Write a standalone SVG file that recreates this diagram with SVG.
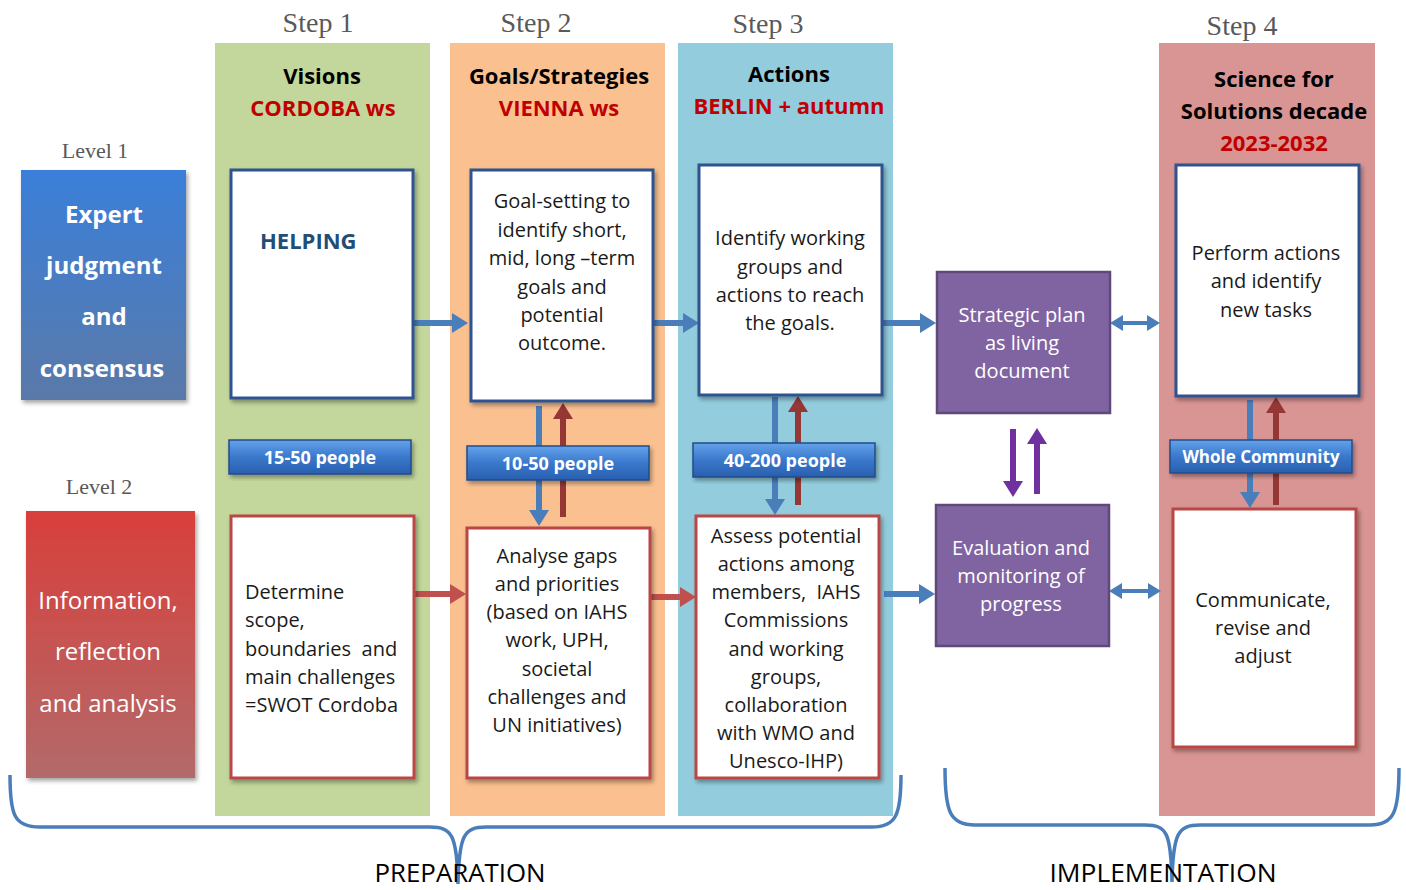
<svg xmlns="http://www.w3.org/2000/svg" width="1406" height="890" viewBox="0 0 1406 890">
<defs>
<style>
.step{font-family:"Liberation Serif",serif;font-size:28px;fill:#595959;text-anchor:middle}
.lvl{font-family:"Liberation Serif",serif;font-size:22px;fill:#595959;text-anchor:middle}
.hdr{font-family:"Open Sans","Liberation Sans",sans-serif;font-size:22px;font-weight:bold;fill:#000;text-anchor:middle}
.red{fill:#c00000}
.body{font-family:"Open Sans","Liberation Sans",sans-serif;font-size:20px;fill:#1a1a1a;text-anchor:middle;white-space:pre}
.wb{font-family:"Open Sans","Liberation Sans",sans-serif;font-size:24px;font-weight:bold;fill:#fff;text-anchor:middle}
.wr{font-family:"Open Sans","Liberation Sans",sans-serif;font-size:24px;fill:#fff;text-anchor:middle}
.pw{font-family:"Open Sans","Liberation Sans",sans-serif;font-size:20px;fill:#fff;text-anchor:middle}
.badge{font-family:"Open Sans","Liberation Sans",sans-serif;font-size:18px;font-weight:bold;fill:#fff;text-anchor:middle}
.bx1{fill:#fff;stroke:#2f528f;stroke-width:3}
.bx2{fill:#fff;stroke:#b84744;stroke-width:3}
.pur{fill:#8064a2;stroke:#5f497a;stroke-width:2.5}
.bdg{fill:url(#gBadge);stroke:#1f4d8a;stroke-width:1.5}
.ab{stroke:#4a7ebb;stroke-width:6;fill:none}
.ar{stroke:#c0504d;stroke-width:6;fill:none}
.ad{stroke:#953735;stroke-width:6;fill:none}
.ap{stroke:#7030a0;stroke-width:6;fill:none}
.dbl{stroke:#4a7ebb;stroke-width:4;fill:none}
.brace{stroke:#4a7ebb;stroke-width:3.5;fill:none}
.big{font-family:"Open Sans","Liberation Sans",sans-serif;font-size:25px;fill:#000;text-anchor:middle}
</style>
<linearGradient id="gBlue" x1="0" y1="0" x2="0" y2="1"><stop offset="0" stop-color="#3a7fda"/><stop offset="1" stop-color="#5a79a8"/></linearGradient>
<linearGradient id="gRed" x1="0" y1="0" x2="0" y2="1"><stop offset="0" stop-color="#d83f3b"/><stop offset="1" stop-color="#b36a6a"/></linearGradient>
<linearGradient id="gBadge" x1="0" y1="0" x2="0" y2="1"><stop offset="0" stop-color="#64a2ea"/><stop offset="0.5" stop-color="#3a78cc"/><stop offset="1" stop-color="#2a5fae"/></linearGradient>
<filter id="sh" x="-10%" y="-10%" width="130%" height="130%"><feDropShadow dx="2" dy="3" stdDeviation="2" flood-color="#000" flood-opacity="0.35"/></filter>
<marker id="mB" markerUnits="userSpaceOnUse" markerWidth="16" markerHeight="20" refX="4" refY="10" orient="auto"><path d="M0,0 L16,10 L0,20 z" fill="#4a7ebb"/></marker>
<marker id="mR" markerUnits="userSpaceOnUse" markerWidth="16" markerHeight="20" refX="4" refY="10" orient="auto"><path d="M0,0 L16,10 L0,20 z" fill="#c0504d"/></marker>
<marker id="mD" markerUnits="userSpaceOnUse" markerWidth="16" markerHeight="20" refX="4" refY="10" orient="auto"><path d="M0,0 L16,10 L0,20 z" fill="#953735"/></marker>
<marker id="mP" markerUnits="userSpaceOnUse" markerWidth="16" markerHeight="20" refX="4" refY="10" orient="auto"><path d="M0,0 L16,10 L0,20 z" fill="#7030a0"/></marker>
<marker id="mS" markerUnits="userSpaceOnUse" markerWidth="13" markerHeight="16" refX="3" refY="8" orient="auto-start-reverse"><path d="M0,0 L13,8 L0,16 z" fill="#4a7ebb"/></marker>
</defs>
<rect width="1406" height="890" fill="#fff"/>

<g id="columns">
<rect x="215" y="43" width="215" height="773" fill="#c3d69b"/>
<rect x="450" y="43" width="215" height="773" fill="#fac090"/>
<rect x="678" y="43" width="215" height="773" fill="#93cddd"/>
<rect x="1159" y="43" width="216" height="773" fill="#d99594"/>
<text class="step" x="318" y="32">Step 1</text>
<text class="step" x="536" y="32">Step 2</text>
<text class="step" x="768" y="33">Step 3</text>
<text class="step" x="1242" y="35">Step 4</text>
<text class="hdr" x="322" y="84">Visions</text>
<text class="hdr red" x="323" y="116">CORDOBA ws</text>
<text class="hdr" x="559" y="84">Goals/Strategies</text>
<text class="hdr red" x="559" y="116">VIENNA ws</text>
<text class="hdr" x="789" y="82">Actions</text>
<text class="hdr red" x="789" y="114">BERLIN + autumn</text>
<text class="hdr" x="1274" y="87">Science for</text>
<text class="hdr" x="1274" y="119">Solutions decade</text>
<text class="hdr red" x="1274" y="151">2023-2032</text>
</g>

<g id="connectors">
<line class="ab" x1="413" y1="323" x2="456" y2="323" marker-end="url(#mB)"/>
<line class="ab" x1="653" y1="323" x2="687" y2="323" marker-end="url(#mB)"/>
<line class="ab" x1="883" y1="323" x2="924" y2="323" marker-end="url(#mB)"/>
<line class="ab" x1="884" y1="594" x2="923" y2="594" marker-end="url(#mB)"/>
<line class="ar" x1="414" y1="594" x2="454" y2="594" marker-end="url(#mR)"/>
<line class="ar" x1="650" y1="597" x2="684" y2="597" marker-end="url(#mR)"/>
<line class="dbl" x1="1120" y1="323" x2="1150" y2="323" marker-start="url(#mS)" marker-end="url(#mS)"/>
<line class="dbl" x1="1119" y1="591" x2="1151" y2="591" marker-start="url(#mS)" marker-end="url(#mS)"/>
<line class="ab" x1="539" y1="406" x2="539" y2="514" marker-end="url(#mB)"/>
<line class="ad" x1="563" y1="517" x2="563" y2="415" marker-end="url(#mD)"/>
<line class="ab" x1="775" y1="397" x2="775" y2="503" marker-end="url(#mB)"/>
<line class="ad" x1="798" y1="505" x2="798" y2="408" marker-end="url(#mD)"/>
<line class="ab" x1="1250" y1="400" x2="1250" y2="496" marker-end="url(#mB)"/>
<line class="ad" x1="1276" y1="505" x2="1276" y2="409" marker-end="url(#mD)"/>
<line class="ap" x1="1013" y1="429" x2="1013" y2="485" marker-end="url(#mP)"/>
<line class="ap" x1="1037" y1="494" x2="1037" y2="440" marker-end="url(#mP)"/>
<path class="brace" d="M10,775 C10,815 14,827 40,827 L430,827 C452,827 457,835 458,884 C459,835 464,827 486,827 L872,827 C896,827 901,815 901,775"/>
<path class="brace" d="M945,768 C945,812 950,825 975,825 L1145,825 C1167,825 1171,833 1172,882 C1173,833 1178,825 1200,825 L1370,825 C1394,825 1399,812 1399,768"/>
</g>

<g id="level1">
<text class="lvl" x="95" y="158">Level 1</text>
<rect x="21" y="170" width="165" height="230" fill="url(#gBlue)" filter="url(#sh)"/>
<text class="wb" x="104" y="223">Expert</text>
<text class="wb" x="104" y="274">judgment</text>
<text class="wb" x="104" y="325">and</text>
<text class="wb" x="102" y="377">consensus</text>
</g>
<g id="level2">
<text class="lvl" x="99" y="494">Level 2</text>
<rect x="26" y="511" width="169" height="267" fill="url(#gRed)" filter="url(#sh)"/>
<text class="wr" x="108" y="609">Information,</text>
<text class="wr" x="108" y="660">reflection</text>
<text class="wr" x="108" y="712">and analysis</text>
</g>

<g id="s1-top">
<rect class="bx1" x="231" y="170" width="182" height="228" filter="url(#sh)"/>
<text x="260" y="249" style="font-family:'Open Sans','Liberation Sans',sans-serif;font-size:22px;font-weight:bold;fill:#1f4e79">HELPING</text>
</g>
<g id="s2-top">
<rect class="bx1" x="471" y="170" width="182" height="231" filter="url(#sh)"/>
<text class="body" x="562"><tspan x="562" y="208">Goal-setting to</tspan><tspan x="562" y="237">identify short,</tspan><tspan x="562" y="265">mid, long –term</tspan><tspan x="562" y="294">goals and</tspan><tspan x="562" y="322">potential</tspan><tspan x="562" y="350">outcome.</tspan></text>
</g>
<g id="s3-top">
<rect class="bx1" x="699" y="165" width="183" height="230" filter="url(#sh)"/>
<text class="body" x="790"><tspan x="790" y="245">Identify working</tspan><tspan x="790" y="274">groups and</tspan><tspan x="790" y="302">actions to reach</tspan><tspan x="790" y="330">the goals.</tspan></text>
</g>
<g id="strategic-plan">
<rect class="pur" x="937" y="272" width="173" height="141"/>
<text class="pw" x="1022"><tspan x="1022" y="322">Strategic plan</tspan><tspan x="1022" y="350">as living</tspan><tspan x="1022" y="378">document</tspan></text>
</g>
<g id="s4-top">
<rect class="bx1" x="1176" y="165" width="183" height="231" filter="url(#sh)"/>
<text class="body" x="1266"><tspan x="1266" y="260">Perform actions</tspan><tspan x="1266" y="288">and identify</tspan><tspan x="1266" y="317">new tasks</tspan></text>
</g>

<g id="s1-bottom">
<rect class="bx2" x="231" y="516" width="183" height="262" filter="url(#sh)"/>
<text class="body" style="text-anchor:start" xml:space="preserve"><tspan x="245" y="599">Determine</tspan><tspan x="245" y="627">scope,</tspan><tspan x="245" y="656">boundaries  and</tspan><tspan x="245" y="684">main challenges</tspan><tspan x="245" y="712">=SWOT Cordoba</tspan></text>
</g>
<g id="s2-bottom">
<rect class="bx2" x="467" y="528" width="183" height="250" filter="url(#sh)"/>
<text class="body"><tspan x="557" y="563">Analyse gaps</tspan><tspan x="557" y="591">and priorities</tspan><tspan x="557" y="619">(based on IAHS</tspan><tspan x="557" y="647">work, UPH,</tspan><tspan x="557" y="676">societal</tspan><tspan x="557" y="704">challenges and</tspan><tspan x="557" y="732">UN initiatives)</tspan></text>
</g>
<g id="s3-bottom">
<rect class="bx2" x="696" y="516" width="183" height="262" filter="url(#sh)"/>
<text class="body" xml:space="preserve"><tspan x="786" y="543">Assess potential</tspan><tspan x="786" y="571">actions among</tspan><tspan x="786" y="599">members,  IAHS</tspan><tspan x="786" y="627">Commissions</tspan><tspan x="786" y="656">and working</tspan><tspan x="786" y="684">groups,</tspan><tspan x="786" y="712">collaboration</tspan><tspan x="786" y="740">with WMO and</tspan><tspan x="786" y="768">Unesco-IHP)</tspan></text>
</g>
<g id="evaluation">
<rect class="pur" x="936" y="505" width="173" height="141"/>
<text class="pw"><tspan x="1021" y="555">Evaluation and</tspan><tspan x="1021" y="583">monitoring of</tspan><tspan x="1021" y="611">progress</tspan></text>
</g>
<g id="s4-bottom">
<rect class="bx2" x="1173" y="509" width="183" height="238" filter="url(#sh)"/>
<text class="body"><tspan x="1263" y="607">Communicate,</tspan><tspan x="1263" y="635">revise and</tspan><tspan x="1263" y="663">adjust</tspan></text>
</g>

<g id="badge-15-50">
<rect class="bdg" x="229" y="440" width="182" height="34" filter="url(#sh)"/>
<text class="badge" x="320" y="464">15-50 people</text>
</g>
<g id="badge-10-50">
<rect class="bdg" x="467" y="446" width="182" height="34" filter="url(#sh)"/>
<text class="badge" x="558" y="470">10-50 people</text>
</g>
<g id="badge-40-200">
<rect class="bdg" x="693" y="443" width="182" height="34" filter="url(#sh)"/>
<text class="badge" x="785" y="467">40-200 people</text>
</g>
<g id="badge-whole">
<rect class="bdg" x="1170" y="440" width="182" height="33" filter="url(#sh)"/>
<text class="badge" x="1261" y="463" style="font-size:17px">Whole Community</text>
</g>

<g id="phase-labels">
<text class="big" x="460" y="882" textLength="171" lengthAdjust="spacingAndGlyphs">PREPARATION</text>
<text class="big" x="1163" y="882" textLength="227" lengthAdjust="spacingAndGlyphs">IMPLEMENTATION</text>
</g>
</svg>
